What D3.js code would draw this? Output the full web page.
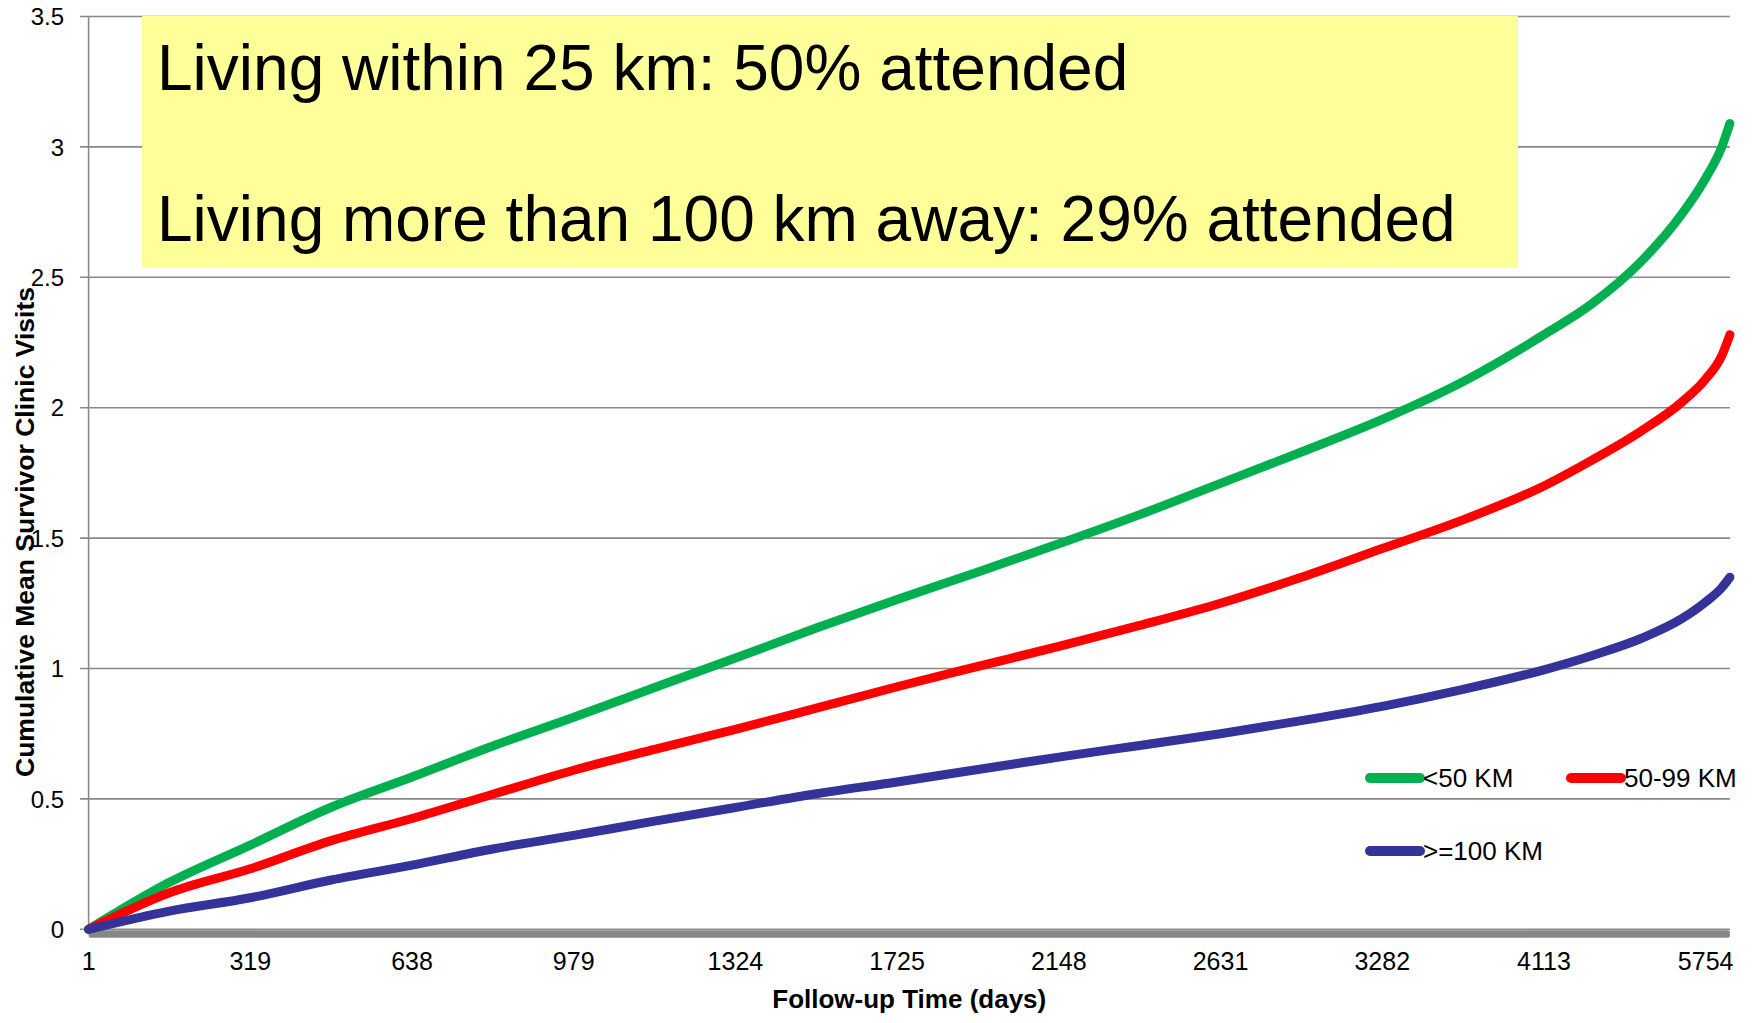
<!DOCTYPE html>
<html>
<head>
<meta charset="utf-8">
<script src="https://cdn.jsdelivr.net/npm/d3@7/dist/d3.min.js"></script>
<style>
  html, body { margin: 0; padding: 0; background: #fff; }
  svg { display: block; }
  text { font-family: "Liberation Sans", Arial, sans-serif; fill: #000; }
</style>
</head>
<body>
<svg id="chart" width="1758" height="1023"></svg>
<script>
// Follow-up event positions (category index along the x axis)
const eventIndex = [0, 50, 100, 150, 200, 250, 300, 350, 400, 450, 500, 550, 600, 650, 700, 750, 800, 850, 900, 930, 960, 985, 1000, 1010, 1015];

// Cumulative mean survivor clinic visits by distance group
const within50 = [0, 0.18, 0.323, 0.468, 0.584, 0.703, 0.813, 0.927, 1.04, 1.155, 1.265, 1.37, 1.478, 1.59, 1.71, 1.83, 1.955, 2.10, 2.28, 2.40, 2.56, 2.74, 2.88, 3.0, 3.09];
const from50to99 = [0, 0.14, 0.232, 0.34, 0.425, 0.518, 0.61, 0.69, 0.767, 0.848, 0.93, 1.008, 1.085, 1.165, 1.25, 1.35, 1.46, 1.57, 1.70, 1.80, 1.91, 2.02, 2.11, 2.20, 2.28];
const over100 = [0, 0.07, 0.121, 0.189, 0.246, 0.308, 0.36, 0.415, 0.467, 0.52, 0.565, 0.613, 0.66, 0.705, 0.75, 0.80, 0.855, 0.92, 0.995, 1.05, 1.115, 1.19, 1.255, 1.31, 1.35];

const seriesNames = ["<50 KM", "50-99 KM", ">=100 KM"];
const seriesColors = ["#00B050", "#FF0000", "#333399"];

// Category labels (days), one every 100 events
const tickDays = ["1", "319", "638", "979", "1324", "1725", "2148", "2631", "3282", "4113", "5754"];
const labelEvery = 100;
const lastEvent = 1015;

const yTicks = [0, 0.5, 1, 1.5, 2, 2.5, 3, 3.5];

const noteLines = ["Living within 25 km: 50% attended", "Living more than 100 km away: 29% attended"];

const svg = d3.select("#chart");

const x = d3.scaleLinear().domain([0, lastEvent]).range([88.6, 1729.9]);
const y = d3.scaleLinear().domain([0, 3.5]).range([929.3, 16.5]);

const gridColor = "#898989";

// horizontal gridlines
svg.append("g")
  .selectAll("line")
  .data(yTicks)
  .join("line")
  .attr("x1", 80).attr("x2", x(lastEvent))
  .attr("y1", d => y(d)).attr("y2", d => y(d))
  .attr("stroke", gridColor).attr("stroke-width", 1.6);

// y axis line
svg.append("line")
  .attr("x1", x(0)).attr("x2", x(0))
  .attr("y1", y(3.5)).attr("y2", y(0))
  .attr("stroke", gridColor).attr("stroke-width", 1.6);

// y tick labels
svg.append("g")
  .selectAll("text")
  .data(yTicks)
  .join("text")
  .attr("x", 64).attr("y", d => y(d))
  .attr("dy", "0.36em")
  .attr("text-anchor", "end")
  .attr("font-size", 24)
  .text(d => d3.format("~g")(d));

// annotation panel
const noteBox = svg.append("g");
noteBox.append("rect")
  .attr("x", 142).attr("y", y(3.5) - 0.5)
  .attr("width", 1376).attr("height", 252)
  .attr("fill", "#FFFF99");
noteBox.selectAll("text")
  .data(noteLines)
  .join("text")
  .attr("x", 157)
  .attr("y", (d, i) => 90 + i * 151)
  .attr("font-size", 64)
  .text(d => d);

// thick x axis base
svg.append("rect")
  .attr("x", x(0)).attr("y", y(0) + 1)
  .attr("width", x(lastEvent) - x(0)).attr("height", 7.5)
  .attr("rx", 2)
  .attr("fill", "#878787");

// x tick labels
svg.append("g")
  .selectAll("text")
  .data(tickDays)
  .join("text")
  .attr("x", (d, i) => x(i * labelEvery))
  .attr("y", 970)
  .attr("text-anchor", "middle")
  .attr("font-size", 25)
  .text(d => d);

// axis titles
svg.append("text")
  .attr("x", (x(0) + x(lastEvent)) / 2)
  .attr("y", 1008)
  .attr("text-anchor", "middle")
  .attr("font-size", 26)
  .attr("font-weight", "bold")
  .text("Follow-up Time (days)");

svg.append("text")
  .attr("transform", "translate(34,532) rotate(-90)")
  .attr("text-anchor", "middle")
  .attr("font-size", 26.5)
  .attr("font-weight", "bold")
  .text("Cumulative Mean Survivor Clinic Visits");

// series lines
const seriesValues = [within50, from50to99, over100];
const line = d3.line()
  .x(d => x(d[0]))
  .y(d => y(d[1]))
  .curve(d3.curveMonotoneX);

svg.append("g")
  .selectAll("path")
  .data(seriesValues)
  .join("path")
  .attr("d", vals => line(vals.map((v, i) => [eventIndex[i], v])))
  .attr("fill", "none")
  .attr("stroke", (d, i) => seriesColors[i])
  .attr("stroke-width", 9)
  .attr("stroke-linejoin", "round")
  .attr("stroke-linecap", "round");

// legend
const legendPos = [[1370, 778], [1571, 778], [1370, 851]];
const legend = svg.append("g")
  .selectAll("g")
  .data(seriesNames)
  .join("g")
  .attr("transform", (d, i) => `translate(${legendPos[i][0]},${legendPos[i][1]})`);
legend.append("line")
  .attr("x1", 0).attr("x2", 50)
  .attr("stroke", (d, i) => seriesColors[i])
  .attr("stroke-width", 10)
  .attr("stroke-linecap", "round");
legend.append("text")
  .attr("x", 53).attr("dy", "0.36em")
  .attr("font-size", 26)
  .text(d => d);
</script>
</body>
</html>
